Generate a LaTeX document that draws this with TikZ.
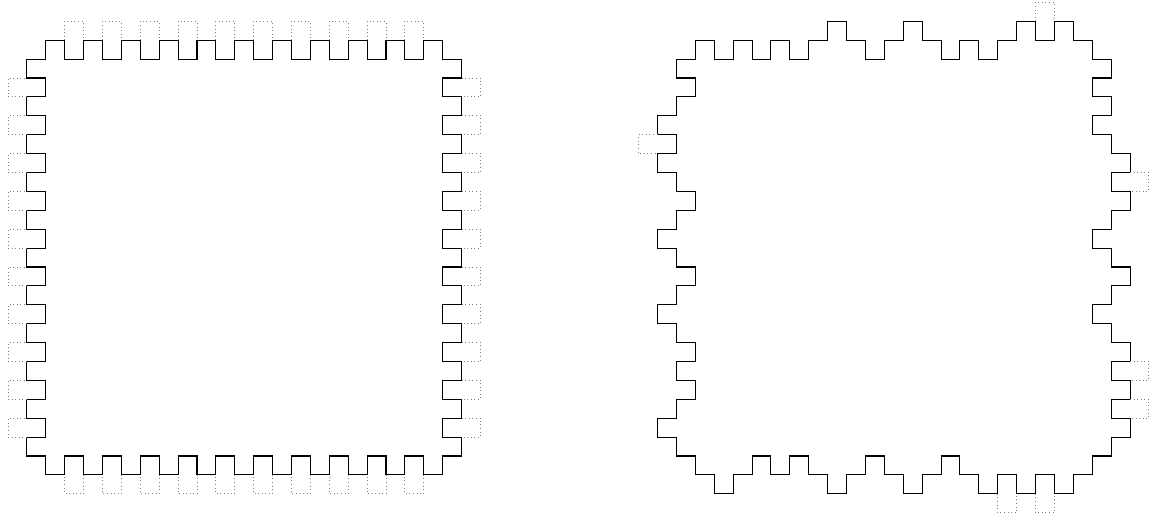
\documentclass[tikz,border=0pt]{standalone}
\usepackage{tikz}

\tikzset{
  edge/.style={black, line width=0.8pt, line cap=rect},
  spare/.style={gray, dotted, line width=0.7pt}
}

\begin{document}
\begin{tikzpicture}[x=0.5cm, y=-0.5cm]
    \useasboundingbox (-0.423,-1.127) rectangle (60.48,26.23);

    % regelmaessige Zinken, vier Seiten durch Drehung
    \foreach \r in {0,-90,-180,-270} {
        \begin{scope}[rotate around={\r:(12.5,12.5)}]
            \draw[edge] (2,1) \foreach \t in {1,...,10} { -- ++(1,0) -- ++(0,1) -- ++(1,0) -- ++(0,-1) }
                -- ++(1,0) -- ++(0,1) -- ++(1,0);
            \foreach \t in {0,...,9}
                \draw[spare] ({3+2*\t},1) -- ++(0,-1) -- ++(1,0) -- ++(0,1);
        \end{scope}
    }

    % unregelmaessige Zinken
    \begin{scope}[shift={(33.37,0)}]
        \draw[edge] (2,2)
            \foreach \k/\l in {2/2,3/1,4/2,5/1,6/2,7/1,8/2,9/1,10/0,11/1,12/2,13/1,14/0,15/1,16/2,17/1,18/2,19/1,20/0,21/1,22/0,23/1,24/2}
                { -- (\k,\l) -- ({\k+1},\l) }
            \foreach \j/\c in {2/25,3/24,4/25,5/24,6/25,7/26,8/25,9/26,10/25,11/24,12/25,13/26,14/25,15/24,16/25,17/26,18/25,19/26,20/25,21/26,22/25,23/24}
                { -- (\c,\j) -- (\c,{\j+1}) }
            \foreach \k/\l in {23/24,22/25,21/24,20/25,19/24,18/25,17/24,16/23,15/24,14/25,13/24,12/23,11/24,10/25,9/24,8/23,7/24,6/23,5/24,4/25,3/24,2/23}
                { -- ({\k+1},\l) -- (\k,\l) }
            \foreach \j/\c in {22/2,21/1,20/2,19/3,18/2,17/3,16/2,15/1,14/2,13/3,12/2,11/1,10/2,9/3,8/2,7/1,6/2,5/1,4/2,3/3,2/2}
                { -- (\c,{\j+1}) -- (\c,\j) }
            -- cycle;

        \draw[spare] (1,6) -- (0,6) -- (0,7) -- (1,7);
        \draw[spare] (21,0) -- (21,-1) -- (22,-1) -- (22,0);
        \foreach \j in {8,18,20}
            \draw[spare] (26,\j) -- (27,\j) -- (27,{\j+1}) -- (26,{\j+1});
        \foreach \k in {19,21}
            \draw[spare] (\k,25) -- (\k,26) -- ({\k+1},26) -- ({\k+1},25);
    \end{scope}

\end{tikzpicture}
\end{document}
